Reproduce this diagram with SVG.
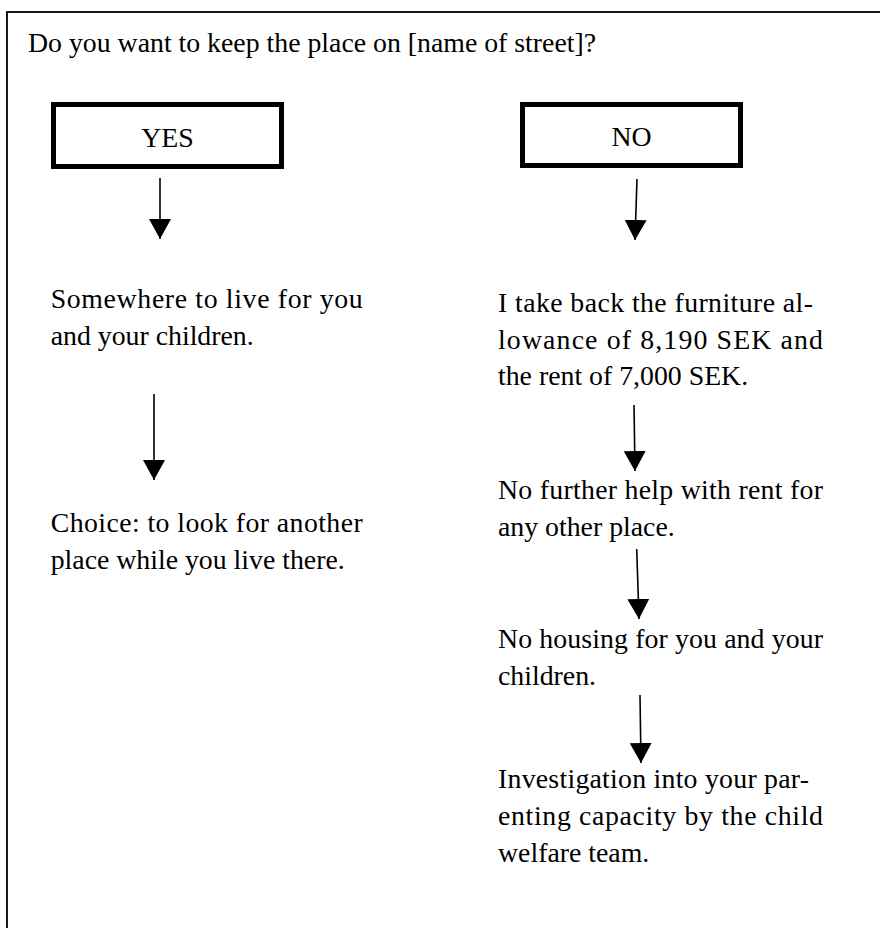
<svg xmlns="http://www.w3.org/2000/svg" width="880" height="928" viewBox="0 0 880 928">
<style>
  .t { font-family: "Liberation Serif", "Times New Roman", serif; font-size: 27.8px; fill: #000; }
  .box { fill: #fff; stroke: #000; stroke-width: 5; }
  .frame { fill: none; stroke: #000; stroke-width: 1.8; }
  .conn { stroke: #000; stroke-width: 1.6; fill: none; marker-end: url(#ah); }
</style>
<defs>
  <marker id="ah" viewBox="0 0 20 22" refX="20" refY="11" markerWidth="20" markerHeight="22" markerUnits="userSpaceOnUse" orient="auto">
    <path d="M0,0 L20,11 L0,22 z" fill="#000"/>
  </marker>
</defs>
<rect width="880" height="928" fill="#fff"/>
<rect class="frame" x="7" y="12" width="900" height="960"/>
<g id="title">
  <text class="t" x="28" y="52">Do you want to keep the place on [name of street]?</text>
</g>
<g id="yes">
  <rect class="box" x="53.5" y="104.5" width="228" height="62"/>
  <text class="t" x="167.5" y="146.5" text-anchor="middle">YES</text>
</g>
<g id="no">
  <rect class="box" x="522.5" y="104.5" width="218" height="61"/>
  <text class="t" x="631.5" y="145.5" text-anchor="middle">NO</text>
</g>
<g id="yes1">
  <text class="t" x="50.7" y="308" textLength="312" lengthAdjust="spacing">Somewhere to live for you</text>
  <text class="t" x="50.7" y="345">and your children.</text>
</g>
<g id="yes2">
  <text class="t" x="50.7" y="532" textLength="312" lengthAdjust="spacing">Choice: to look for another</text>
  <text class="t" x="50.7" y="568.5">place while you live there.</text>
</g>
<g id="no1">
  <text class="t" x="498" y="312" textLength="315" lengthAdjust="spacing">I take back the furniture al-</text>
  <text class="t" x="498" y="348.5" textLength="325" lengthAdjust="spacing">lowance of 8,190 SEK and</text>
  <text class="t" x="498" y="385">the rent of 7,000 SEK.</text>
</g>
<g id="no2">
  <text class="t" x="498" y="498.5" textLength="325" lengthAdjust="spacing">No further help with rent for</text>
  <text class="t" x="498" y="535.5">any other place.</text>
</g>
<g id="no3">
  <text class="t" x="498" y="647.5" textLength="325" lengthAdjust="spacing">No housing for you and your</text>
  <text class="t" x="498" y="685">children.</text>
</g>
<g id="no4">
  <text class="t" x="498" y="788" textLength="311" lengthAdjust="spacing">Investigation into your par-</text>
  <text class="t" x="498" y="825" textLength="325" lengthAdjust="spacing">enting capacity by the child</text>
  <text class="t" x="498" y="862">welfare team.</text>
</g>
<g id="connectors">
  <path class="conn" d="M160,178 L160,239"/>
  <path class="conn" d="M154,394 L154,480"/>
  <path class="conn" d="M637,179 L635,240"/>
  <path class="conn" d="M634,405 L635,471"/>
  <path class="conn" d="M636.7,549 L639,619"/>
  <path class="conn" d="M640,695 L641,763"/>
</g>
</svg>
